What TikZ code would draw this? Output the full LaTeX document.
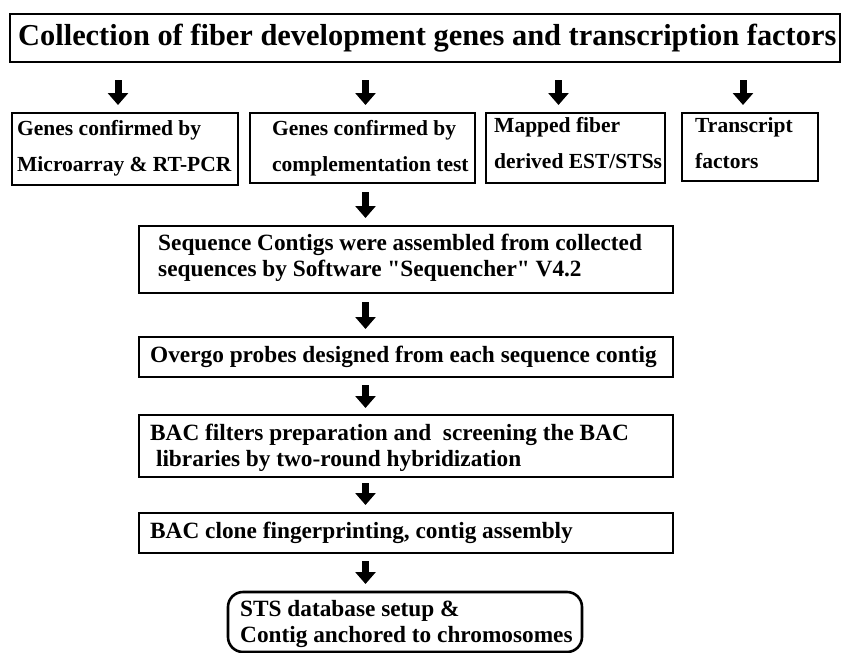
\documentclass[tikz,border=0pt]{standalone}
\usepackage{fontspec}
\setmainfont{Liberation Serif}[Ligatures=TeXOff]
\usetikzlibrary{arrows.meta,calc}

\begin{document}
\begin{tikzpicture}[x=1pt,y=-1pt,
  frame/.style={draw,line width=2.6pt,inner sep=0pt,outer sep=0pt,anchor=north west},
  txt/.style={anchor=west,align=left,inner sep=0pt,font=\bfseries},
  small/.style={font=\fontsize{21.5}{36}\selectfont\bfseries},
  big/.style={font=\fontsize{23.3}{26}\selectfont\bfseries},
  blk/.style={line width=7pt,-{Triangle[length=12pt,width=20pt]}},
]
\useasboundingbox[fill=white] (0,0) rectangle (841,653);

% title
\node[frame,minimum width=830pt,minimum height=48pt] (top) at (10,14) {};
\node[txt,font=\fontsize{30.4}{34}\selectfont\bfseries] (toptxt) at ([xshift=8pt]top.west)
  {Collection of fiber development genes and transcription factors};

% four sources
\node[frame,minimum width=226pt,minimum height=72pt] (A) at (12,113) {};
\node[txt,small] (Atxt) at ([xshift=5pt,yshift=1pt]A.west) {Genes confirmed by\\Microarray \& RT-PCR};

\node[frame,minimum width=225pt,minimum height=70pt] (B) at (250,113) {};
\node[txt,small] (Btxt) at ([xshift=22pt,yshift=0pt]B.west) {Genes confirmed by\\complementation test};

\node[frame,minimum width=179pt,minimum height=70pt] (C) at (486,113) {};
\node[txt,small] (Ctxt) at ([xshift=8pt,yshift=4.5pt]C.west) {Mapped fiber\\derived EST/STSs};

\node[frame,minimum width=136pt,minimum height=68pt] (D) at (682,113) {};
\node[txt,small] (Dtxt) at ([xshift=13pt,yshift=4pt]D.west) {Transcript\\factors};

% pipeline
\node[frame,minimum width=534pt,minimum height=67pt] (E) at (139,226) {};
\node[txt,big] (Etxt) at ([xshift=19pt,yshift=1.5pt]E.west)
  {Sequence Contigs were assembled from collected\\sequences by Software "Sequencher" V4.2};

\node[frame,minimum width=534pt,minimum height=40pt] (F) at (139,337) {};
\node[txt,big] (Ftxt) at ([xshift=11pt]F.west) {Overgo probes designed from each sequence contig};

\node[frame,minimum width=534pt,minimum height=62pt] (G) at (139,415) {};
\node[txt,big] (Gtxt) at ([xshift=11pt,yshift=-2pt]G.west)
  {BAC filters preparation and\ \ screening the BAC\\\ libraries by two-round hybridization};

\node[frame,minimum width=534pt,minimum height=40pt] (H) at (139,513) {};
\node[txt,big] (Htxt) at ([xshift=11pt]H.west) {BAC clone fingerprinting, contig assembly};

\node[frame,rounded corners=15pt,minimum width=354pt,minimum height=60pt] (I) at (228,592) {};
\node[txt,big] (Itxt) at ([xshift=12pt,yshift=-2pt]I.west) {STS database setup \&\\Contig anchored to chromosomes};

% block arrows
\draw[blk,shorten <=18pt,shorten >=8pt] ([xshift=-7pt]A.north |- top.south) -- ([xshift=-7pt]A.north);
\draw[blk,shorten <=18pt,shorten >=8pt] ([xshift=3pt]B.north |- top.south) -- ([xshift=3pt]B.north);
\draw[blk,shorten <=18pt,shorten >=8pt] ([xshift=-17pt]C.north |- top.south) -- ([xshift=-17pt]C.north);
\draw[blk,shorten <=18pt,shorten >=8pt] ([xshift=-7pt]D.north |- top.south) -- ([xshift=-7pt]D.north);

\coordinate (e1) at ([xshift=3pt]B.south);
\draw[blk,shorten <=9pt,shorten >=8pt] (e1) -- (e1 |- E.north);
\draw[blk,shorten <=9pt,shorten >=8pt] (E.south -| e1) -- (e1 |- F.north);
\draw[blk,shorten <=8pt,shorten >=7pt] (F.south -| e1) -- (e1 |- G.north);
\draw[blk,shorten <=6pt,shorten >=8pt] (G.south -| e1) -- (e1 |- H.north);
\draw[blk,shorten <=8pt,shorten >=8pt] (H.south -| e1) -- (e1 |- I.north);
\end{tikzpicture}
\end{document}
